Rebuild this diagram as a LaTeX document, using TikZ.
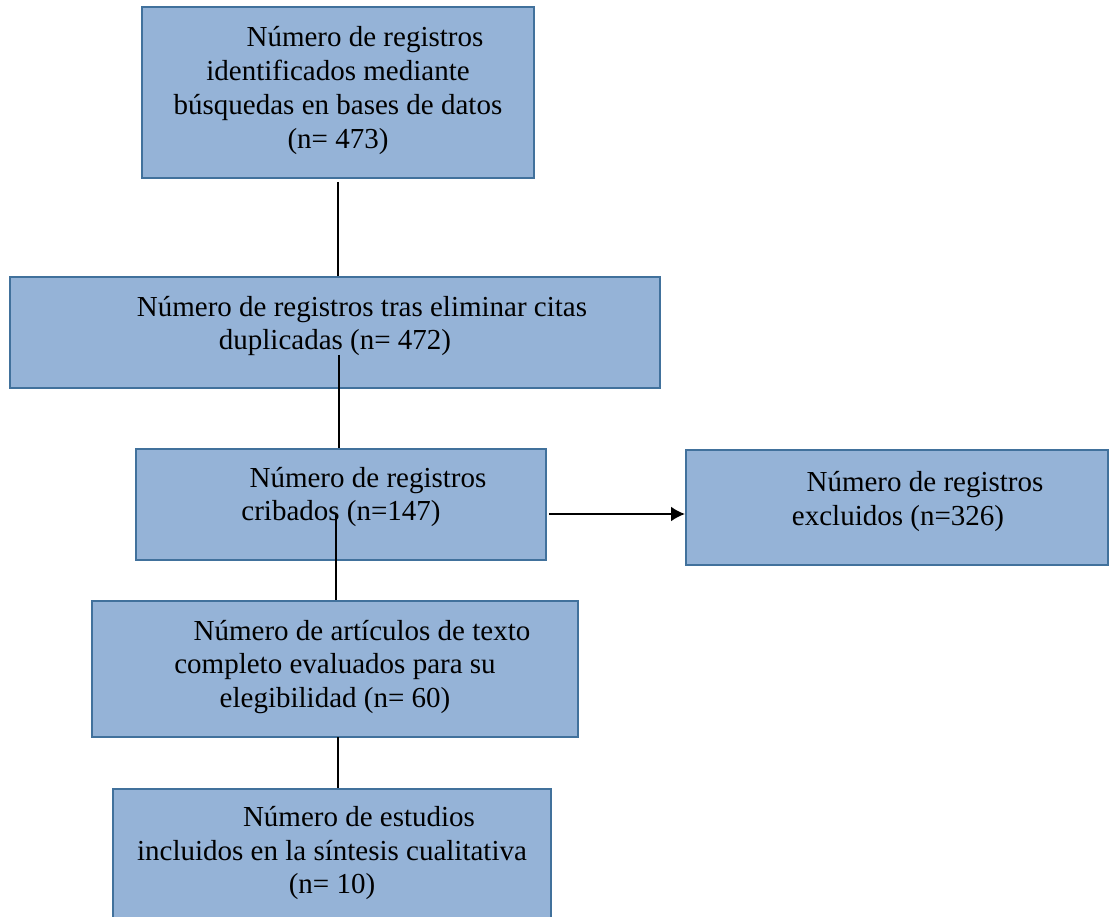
\documentclass[tikz,border=0pt]{standalone}
\usepackage{fontspec}
\setmainfont{Liberation Serif}
\usetikzlibrary{arrows.meta,calc}
\definecolor{fondocaja}{HTML}{95B3D7}
\definecolor{bordecaja}{HTML}{41719C}

\begin{document}
\begin{tikzpicture}[x=1pt,y=-1pt]
\tikzstyle{caja}=[draw=bordecaja,fill=fondocaja,line width=2pt,rectangle,inner sep=0pt]
\tikzstyle{texto}=[align=center,inner sep=0pt,font=\fontsize{29}{33.7}\selectfont]
\tikzstyle{trazo}=[line width=2pt]
\tikzstyle{flecha}=[-{Latex[length=14pt,width=15pt]},line width=2pt]
\def\Sangria{\hspace*{54pt}}
\useasboundingbox (0,0) rectangle (1109,917);
% cajas
\node[caja,minimum width=392,minimum height=171] (A) at (338,92.5) {};
\node[caja,minimum width=650,minimum height=111] (B) at (335,332.5) {};
\node[caja,minimum width=410,minimum height=111] (C) at (341,504.5) {};
\node[caja,minimum width=422,minimum height=115] (D) at (897,507.5) {};
\node[caja,minimum width=486,minimum height=136] (E) at (335,669) {};
\node[caja,minimum width=438,minimum height=140] (F) at (332,859) {};
% textos
\node[texto] (tA) at (338,90.5) {\Sangria Número de registros\\identificados mediante\\búsquedas en bases de datos\\(n= 473)};
\node[texto] (tB) at (335,326) {\Sangria Número de registros tras eliminar citas\\duplicadas (n= 472)};
\node[texto] (tC) at (341,497) {\Sangria Número de registros\\cribados (n=147)};
\node[texto] (tD) at (898,501.5) {\Sangria Número de registros\\excluidos (n=326)};
\node[texto] (tE) at (335,667) {\Sangria Número de artículos de texto\\completo evaluados para su\\elegibilidad (n= 60)};
\node[texto] (tF) at (332,853) {\Sangria Número de estudios\\incluidos en la síntesis cualitativa\\(n= 10)};
% conectores
\coordinate (ab) at (338,182);
\coordinate (bc) at (339,355);
\coordinate (ce) at (336,515);
\coordinate (ef) at (338,737);
\coordinate (cd) at (549,514);
\draw[trazo] (ab)--(ab |- B.north);
\draw[trazo] (bc)--(bc |- C.north);
\draw[trazo] (ce)--(ce |- E.north);
\draw[trazo] (ef)--(ef |- F.north);
\draw[flecha] (cd)--(cd -| D.west);
\end{tikzpicture}
\end{document}
